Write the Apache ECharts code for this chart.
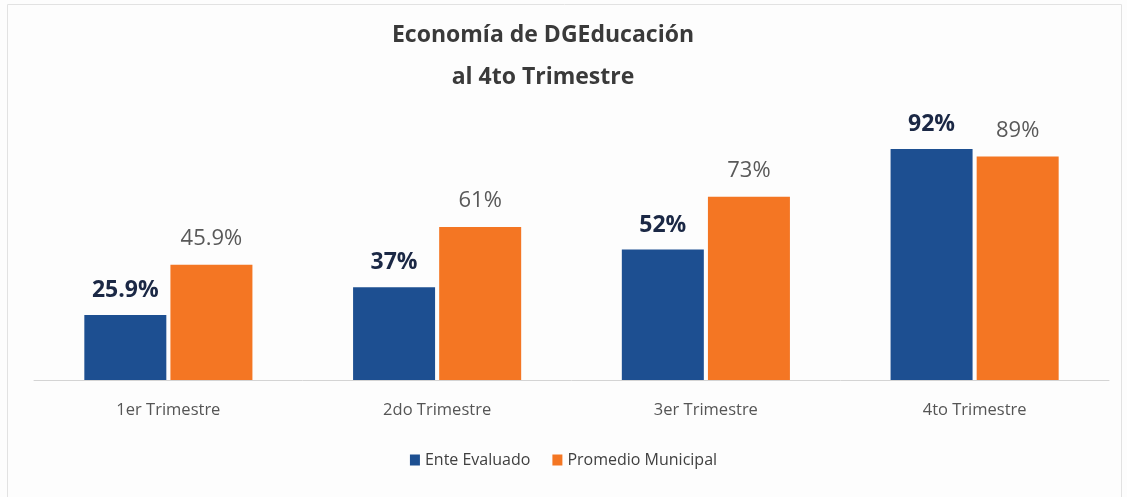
<!DOCTYPE html>
<html>
<head>
<meta charset="utf-8">
<script src="https://cdn.jsdelivr.net/npm/echarts@6/dist/echarts.min.js"></script>
<style>
  html, body { margin: 0; padding: 0; background: #fdfdfd; }
  #chart { width: 1127px; height: 497px; }
</style>
</head>
<body>
<div id="chart"></div>
<script>
const categories = ['1er Trimestre', '2do Trimestre', '3er Trimestre', '4to Trimestre']
const enteEvaluado = [25.9, 37, 52, 92]
const promedioMunicipal = [45.9, 61, 73, 89]
const enteLabels = ['25.9%', '37%', '52%', '92%']
const promedioLabels = ['45.9%', '61%', '73%', '89%']

const chart = echarts.init(document.getElementById('chart'))

chart.setOption({
  textStyle: { fontFamily: 'Open Sans' },
  // faint frame around the chart area
  graphic: [
    {
      type: 'rect',
      shape: { x: 7.5, y: 4.5, width: 1114, height: 500 },
      style: { fill: 'none', stroke: '#e2e2e2', lineWidth: 1 },
      silent: true,
    },
  ],
  title: {
    text: 'Economía de DGEducación\nal 4to Trimestre',
    left: 538,
    textAlign: 'center',
    top: 9,
    textStyle: {
      color: '#3a3a3a',
      fontSize: 23,
      fontWeight: 'bold',
      lineHeight: 42,
      fontFamily: 'Open Sans',
    },
  },
  legend: {
    data: ['Ente Evaluado', 'Promedio Municipal'],
    bottom: 24,
    left: 'center',
    icon: 'rect',
    itemWidth: 10,
    itemHeight: 11,
    itemGap: 22,
    textStyle: { color: '#404040', fontSize: 16 },
  },
  grid: {
    left: 34,
    right: 18,
    top: 129,
    bottom: 117,
  },
  xAxis: {
    type: 'category',
    data: categories,
    axisLine: { lineStyle: { color: '#d4d4d4' } },
    axisTick: { show: false },
    axisLabel: { color: '#555555', fontSize: 16.5, margin: 22 },
  },
  yAxis: {
    type: 'value',
    min: 0,
    max: 100,
    show: false,
    splitLine: { show: false },
  },
  series: [
    {
      name: 'Ente Evaluado',
      type: 'bar',
      data: enteEvaluado,
      barWidth: 82,
      barGap: '5%',
      itemStyle: { color: '#1d4f91' },
      label: {
        show: true,
        position: 'top',
        distance: 13,
        color: '#1b2845',
        fontSize: 23,
        fontWeight: 'bold',
        formatter: (p) => enteLabels[p.dataIndex],
      },
    },
    {
      name: 'Promedio Municipal',
      type: 'bar',
      data: promedioMunicipal,
      barWidth: 82,
      itemStyle: { color: '#f47623' },
      label: {
        show: true,
        position: 'top',
        distance: 15,
        color: '#595959',
        fontSize: 22,
        formatter: (p) => promedioLabels[p.dataIndex],
      },
    },
  ],
})
</script>
</body>
</html>
